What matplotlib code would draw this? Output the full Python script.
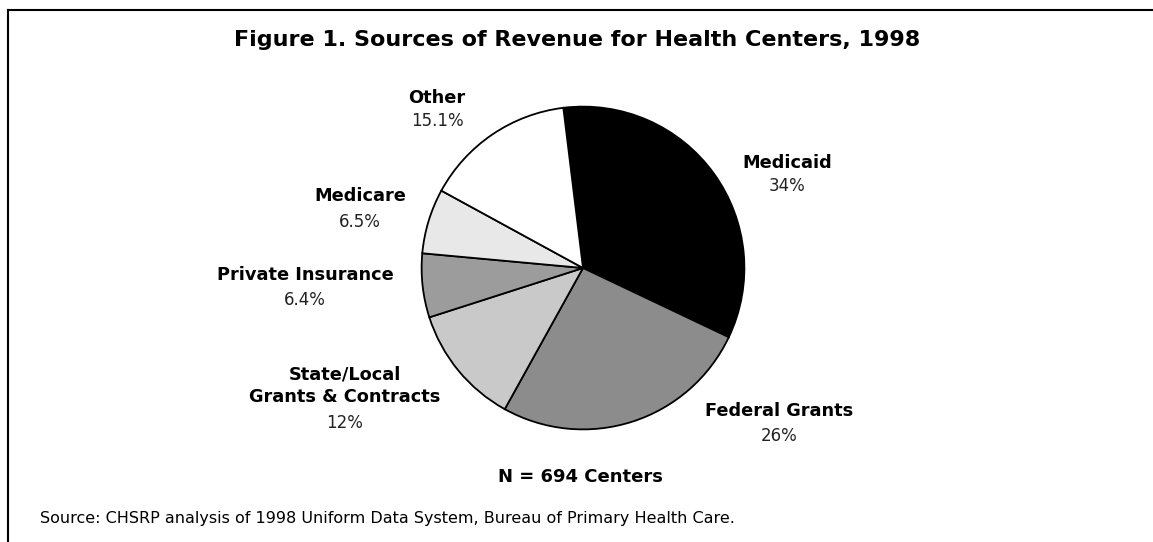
import numpy as np
import matplotlib.pyplot as plt

W, H = 1153, 542

# revenue shares, clockwise from Medicaid
sources = ["Medicaid", "Federal Grants", "State/Local\nGrants & Contracts",
           "Private Insurance", "Medicare", "Other"]
shares = [34.0, 26.0, 12.0, 6.4, 6.5, 15.1]
share_labels = ["34%", "26%", "12%", "6.4%", "6.5%", "15.1%"]
fills = ["#000000", "#8c8c8c", "#c9c9c9", "#9c9c9c", "#e8e8e8", "#ffffff"]

# label anchor positions (pixels) for each name / percentage
label_xy = [(787, 163), (779, 411), (345, 386), (305, 275), (360, 196), (437, 98)]
pct_xy = [(787, 186), (779, 436), (345, 423), (305, 300), (360, 222), (437, 121)]

fig = plt.figure(figsize=(W / 100, H / 100), dpi=100)

def fx(x):
    return x / W

def fy(y):
    return 1 - y / H

# pie axes: centre (583, 268), radius 163 px
cx, cy, r = 583, 268, 163
ax = fig.add_axes([fx(cx - r), fy(cy + r), 2 * r / W, 2 * r / H])
ax.pie(shares, colors=fills, startangle=97, counterclock=False,
       wedgeprops=dict(edgecolor="black", linewidth=1.3))
ax.set_xlim(-1.01, 1.01)
ax.set_ylim(-1.01, 1.01)
ax.set_aspect("equal")
ax.axis("off")

fig.text(fx(577), fy(40), "Figure 1. Sources of Revenue for Health Centers, 1998",
         ha="center", va="center", fontsize=16, fontweight="heavy")

for name, pct, (lx, ly), (px, py) in zip(sources, share_labels, label_xy, pct_xy):
    fig.text(fx(lx), fy(ly), name, ha="center", va="center", fontsize=12.8,
             fontweight="bold", linespacing=1.35)
    fig.text(fx(px), fy(py), pct, ha="center", va="center", fontsize=12,
             color="#222222")

fig.text(fx(580), fy(477), "N = 694 Centers", ha="center", va="center",
         fontsize=13, fontweight="bold")
fig.text(fx(40), fy(519), "Source: CHSRP analysis of 1998 Uniform Data System, "
         "Bureau of Primary Health Care.", ha="left", va="center", fontsize=11.5)

# frame: top and left edges only
fig.add_artist(plt.Line2D([fx(8), 1], [fy(10), fy(10)], color="black", lw=1.5))
fig.add_artist(plt.Line2D([fx(8), fx(8)], [fy(10), 0], color="black", lw=1.5))

fig.savefig("out.png", dpi=100)
